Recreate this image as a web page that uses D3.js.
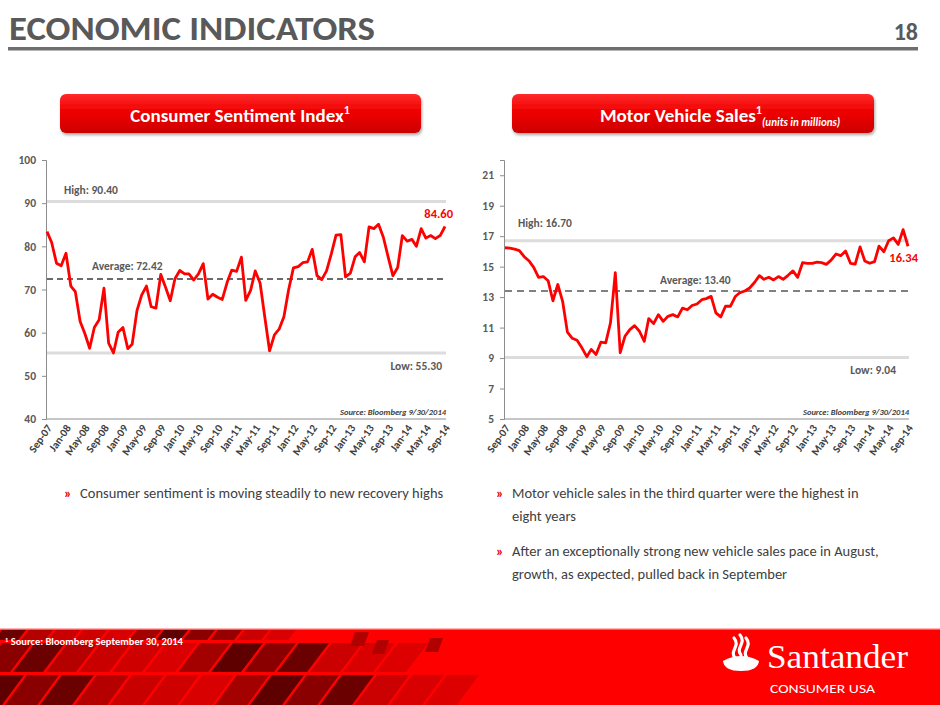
<!DOCTYPE html>
<html>
<head>
<meta charset="utf-8">
<script src="https://cdn.jsdelivr.net/npm/d3@7"></script>
<style>
  body { margin: 0; background: #fff; }
  svg text { font-family: Carlito, Lato, "Open Sans", sans-serif; }
</style>
</head>
<body>
<svg id="slide" width="940" height="705"></svg>
<script>
////////////////////////////////////////////////////////////////
// Data (monthly, Sep-07 .. Sep-14)

let firstMonth = "Sep-07";

let tickLabels = ["Sep-07","Jan-08","May-08","Sep-08","Jan-09","May-09","Sep-09",
  "Jan-10","May-10","Sep-10","Jan-11","May-11","Sep-11","Jan-12","May-12","Sep-12",
  "Jan-13","May-13","Sep-13","Jan-14","May-14","Sep-14"];

let sentimentValues = [83.4,80.9,76.1,75.5,
  78.4,70.8,69.5,62.6,59.8,56.4,61.2,63.0,70.3,57.6,55.3,60.1,
  61.2,56.3,57.3,65.1,68.7,70.8,66.0,65.7,73.5,70.6,67.4,72.5,
  74.4,73.6,73.6,72.2,73.6,76.0,67.8,68.9,68.2,67.7,71.6,74.5,
  74.2,77.5,67.5,69.8,74.3,71.5,63.7,55.8,59.5,60.8,63.7,69.9,
  75.0,75.3,76.2,76.4,79.3,73.2,72.3,74.3,78.3,82.6,82.7,72.9,
  73.8,77.6,78.6,76.4,84.5,84.1,85.1,82.1,77.5,73.2,75.1,82.5,
  81.2,81.6,80.0,84.1,81.9,82.5,81.8,82.5,84.6];

let vehicleValues = [16.24,16.22,16.15,16.05,
  15.65,15.37,14.95,14.30,14.35,14.07,12.76,13.83,12.70,10.70,10.30,10.17,
  9.67,9.09,9.57,9.24,10.04,10.00,11.30,14.60,9.35,10.43,10.87,11.13,
  10.76,10.10,11.59,11.26,11.85,11.41,11.74,11.85,11.70,12.28,12.17,12.45,
  12.55,12.83,12.90,13.05,11.97,11.70,12.40,12.40,13.04,13.30,13.40,13.60,
  13.96,14.41,14.17,14.30,14.13,14.35,14.17,14.43,14.72,14.30,15.26,15.22,
  15.22,15.30,15.26,15.15,15.43,15.83,15.72,16.02,15.22,15.17,16.30,15.37,
  15.22,15.33,16.35,15.98,16.70,16.89,16.46,17.43,16.34];

let sentimentTicks = [40,50,60,70,80,90,100];
let vehicleTicks = [5,7,9,11,13,15,17,19,21];

let sentimentStats = { high: 90.40, avg: 72.42, low: 55.30, last: 84.60 };
let vehicleStats = { high: 16.70, avg: 13.40, low: 9.04, last: 16.34 };

let leftBullets = [["Consumer sentiment is moving steadily to new recovery highs"]];
let rightBullets = [
  ["Motor vehicle sales in the third quarter were the highest in", "eight years"],
  ["After an exceptionally strong new vehicle sales pace in August,", "growth, as expected, pulled back in September"]
];

////////////////////////////////////////////////////////////////

let svg = d3.select("#slide");
let grey = "#595959";
let red = "#ff0000";
let parseMonth = d3.timeParse("%b-%y");

let defs = svg.append("defs");
let btnGrad = defs.append("linearGradient").attr("id", "btn").attr("x1", 0).attr("x2", 0).attr("y1", 0).attr("y2", 1);
btnGrad.append("stop").attr("offset", "0%").attr("stop-color", "#ff2a2a");
btnGrad.append("stop").attr("offset", "45%").attr("stop-color", "#f00000");
btnGrad.append("stop").attr("offset", "100%").attr("stop-color", "#cc0000");
let shadow = defs.append("filter").attr("id", "shadow").attr("x", "-10%").attr("y", "-20%").attr("width", "120%").attr("height", "160%");
shadow.append("feDropShadow").attr("dx", 1).attr("dy", 2).attr("stdDeviation", 1.5).attr("flood-color", "#000").attr("flood-opacity", 0.35);

// header
svg.append("text")
  .attr("x", 9).attr("y", 40)
  .attr("font-size", 34).attr("font-weight", "bold").attr("fill", grey)
  .attr("textLength", 366).attr("lengthAdjust", "spacingAndGlyphs")
  .text("ECONOMIC INDICATORS");
svg.append("text")
  .attr("x", 918).attr("y", 40).attr("text-anchor", "end")
  .attr("font-size", 24).attr("font-weight", "bold").attr("fill", grey)
  .text("18");
svg.append("rect").attr("x", 8).attr("y", 47).attr("width", 910).attr("height", 3.5).attr("fill", "#6e6e6e");

// section buttons
function button(x, w, tx, anchor, label, note) {
  let g = svg.append("g");
  g.append("rect")
    .attr("x", x).attr("y", 94).attr("width", w).attr("height", 39).attr("rx", 6)
    .attr("fill", "url(#btn)").attr("filter", "url(#shadow)");
  let t = g.append("text")
    .attr("x", tx).attr("y", 122)
    .attr("text-anchor", anchor).attr("fill", "#fff")
    .attr("font-size", 19).attr("font-weight", "bold");
  t.append("tspan").text(label);
  t.append("tspan").attr("font-size", 12).attr("dy", -8).text("1");
  if (note) {
    t.append("tspan").attr("font-size", 11).attr("font-style", "italic").attr("dy", 12).text(note);
  }
}
button(60, 361, 240, "middle", "Consumer Sentiment Index");
button(512, 362, 600, "start", "Motor Vehicle Sales", "(units in millions)");

////////////////////////////////////////////////////////////////
// line charts

function drawChart(cfg) {
  let start = parseMonth(firstMonth);
  let dates = cfg.values.map((v, i) => d3.timeMonth.offset(start, i));
  let data = dates.map((d, i) => [d, cfg.values[i]]);

  let x = d3.scaleTime()
    .domain([dates[0], dates[dates.length - 1]])
    .range([cfg.x0, cfg.x1]);
  let y = d3.scaleLinear()
    .domain(cfg.domain)
    .range([419, 160]);

  let g = svg.append("g");

  // y axis
  let ya = g.append("g")
    .attr("transform", `translate(${cfg.x0 - 1},0)`)
    .call(d3.axisLeft(y).tickValues(cfg.ticks).tickSize(4).tickPadding(6).tickFormat(d3.format("d")));
  ya.select(".domain").attr("stroke", "#8c8c8c");
  ya.selectAll(".tick line").attr("stroke", "#8c8c8c");
  ya.selectAll(".tick text")
    .attr("fill", grey).attr("font-size", 11.5).attr("font-weight", "bold")
    .style("font-family", "Carlito, Lato, 'Open Sans', sans-serif");

  // x axis
  let xa = g.append("g")
    .attr("transform", "translate(0,419)")
    .call(d3.axisBottom(x).tickValues(tickLabels.map(parseMonth)).tickSize(0).tickPadding(0)
      .tickFormat(d3.timeFormat("%b-%y")));
  xa.select(".domain").attr("stroke", "#8c8c8c").attr("d", `M${cfg.x0 - 1},0H${cfg.x1 + 1}`);
  xa.selectAll(".tick text")
    .attr("fill", "#404040").attr("font-size", 11).attr("font-weight", "bold")
    .style("font-family", "Carlito, Lato, 'Open Sans', sans-serif")
    .attr("text-anchor", "end")
    .attr("dy", 0)
    .attr("transform", "translate(5,9) rotate(-55)");

  // reference lines
  [cfg.stats.high, cfg.stats.low].forEach(v => {
    g.append("line")
      .attr("x1", cfg.x0).attr("x2", cfg.x1 + 1)
      .attr("y1", y(v)).attr("y2", y(v))
      .attr("stroke", "#dcdcdc").attr("stroke-width", 3);
  });
  g.append("line")
    .attr("x1", cfg.x0).attr("x2", cfg.x1 + 2)
    .attr("y1", y(cfg.stats.avg)).attr("y2", y(cfg.stats.avg))
    .attr("stroke", cfg.dashColor).attr("stroke-width", cfg.dashWidth)
    .attr("stroke-dasharray", cfg.dash);

  // series
  g.append("path")
    .datum(data)
    .attr("d", d3.line().x(p => x(p[0])).y(p => y(p[1])))
    .attr("fill", "none")
    .attr("stroke", red)
    .attr("stroke-width", 2.8)
    .attr("stroke-linejoin", "round");

  // labels
  let lab = (tx, ty, anchor, txt, size, color) => g.append("text")
    .attr("x", tx).attr("y", ty).attr("text-anchor", anchor)
    .attr("font-size", size).attr("font-weight", "bold").attr("fill", color)
    .text(txt);
  let f = d3.format(".2f");
  lab(cfg.x0 + cfg.highDx, y(cfg.stats.high) + cfg.highDy, "start", "High: " + f(cfg.stats.high), 11.5, grey);
  lab(cfg.avgX, y(cfg.stats.avg) + cfg.avgDy, "start", "Average: " + f(cfg.stats.avg), 11.5, grey);
  lab(cfg.lowX, y(cfg.stats.low) + cfg.lowDy, "end", "Low: " + f(cfg.stats.low), 11.5, grey);
  lab(cfg.lastX, y(cfg.stats.last) + cfg.lastDy, "end", f(cfg.stats.last), 12.5, red);

  g.append("text")
    .attr("x", cfg.x1 + 1).attr("y", 415).attr("text-anchor", "end")
    .attr("font-size", 8.5).attr("font-weight", "bold").attr("font-style", "italic")
    .attr("fill", "#404040")
    .text("Source: Bloomberg 9/30/2014");
}

drawChart({
  values: sentimentValues, ticks: sentimentTicks, domain: [40, 100], stats: sentimentStats,
  x0: 47, x1: 445,
  dashColor: "#3a3a3a", dashWidth: 1.6, dash: "6,4",
  highDx: 17, highDy: -7, avgX: 92, avgDy: -9.5, lowX: 442, lowDy: 17.5, lastX: 453, lastDy: -8.5
});

drawChart({
  values: vehicleValues, ticks: vehicleTicks, domain: [5, 22], stats: vehicleStats,
  x0: 505, x1: 908,
  dashColor: "#808080", dashWidth: 2, dash: "7,5",
  highDx: 13, highDy: -14, avgX: 660, avgDy: -7, lowX: 896, lowDy: 16.5, lastX: 918, lastDy: 16
});

////////////////////////////////////////////////////////////////
// bullets

function bullets(x, list) {
  let yy = 498;
  list.forEach(lines => {
    svg.append("text").attr("x", x).attr("y", yy)
      .attr("font-size", 14).attr("font-weight", "bold").attr("fill", "#e60000").text("»");
    lines.forEach(line => {
      svg.append("text").attr("x", x + 16).attr("y", yy)
        .attr("font-size", 14.5).attr("fill", "#404040").text(line);
      yy += 23;
    });
    yy += 12;
  });
}
bullets(64, leftBullets);
bullets(496, rightBullets);

////////////////////////////////////////////////////////////////
// footer band

let foot = svg.append("g");
foot.append("rect").attr("x", 0).attr("y", 628).attr("width", 940).attr("height", 77).attr("fill", "#ff0000");
foot.append("rect").attr("x", 0).attr("y", 628).attr("width", 940).attr("height", 1.5).attr("fill", "#ffb3b3");

// decorative tiles (three slanted rows)
let shades = ["#6b0000", "#a30000", "#c80000", "#8a0000", "#d80000", "#b50000", "#5e0000", "#cf0000"];
let tileRows = [
  { y: 630, h: 10, w: 24, n: 11, slant: 8, x0: -6, gap: 3 },
  { y: 643, h: 29, w: 30, n: 13, slant: 22, x0: -20, gap: 3 },
  { y: 675, h: 30, w: 32, n: 14, slant: 22, x0: -30, gap: 3 }
];
let tiles = foot.append("g");
tileRows.forEach((row, r) => {
  d3.range(row.n).forEach(c => {
    let cx = row.x0 + c * (row.w + row.gap);
    let k = (c * 5 + r * 3) % shades.length;
    tiles.append("path")
      .attr("d", `M${cx + row.slant},${row.y}H${cx + row.slant + row.w}L${cx + row.w},${row.y + row.h}H${cx}Z`)
      .attr("fill", shades[k])
      .attr("opacity", c > row.n - 4 ? 0.7 : 1);
  });
});
// sparse tiles to the right of the top row
[[350, 632, 14], [372, 640, 12], [425, 638, 13]].forEach(s => {
  tiles.append("path")
    .attr("d", `M${s[0] + 5},${s[1]}H${s[0] + 5 + s[2]}L${s[0] + s[2]},${s[1] + 14}H${s[0]}Z`)
    .attr("fill", "#b00000");
});

foot.append("text").attr("x", 5).attr("y", 645)
  .attr("font-size", 10.5).attr("font-weight", "bold").attr("fill", "#fff")
  .html("<tspan font-size='6.5' dy='-3'>1</tspan><tspan dy='3'> Source: Bloomberg September 30, 2014</tspan>");

// Santander flame mark
foot.append("path")
  .attr("d", "M723,661 Q741,651 759,661 Q758,671 741,671 Q724,671 723,661 Z")
  .attr("fill", "#fff");
[[-6, 0], [0, -3], [6, 0]].forEach(o => {
  foot.append("path")
    .attr("d", `M${741 + o[0]},${658 + o[1]} C${735 + o[0]},${651 + o[1]} ${747 + o[0]},${646 + o[1]} ${740 + o[0]},${638 + o[1]}`)
    .attr("fill", "none").attr("stroke", "#fff").attr("stroke-width", 3.2).attr("stroke-linecap", "round");
});
foot.append("text").attr("x", 767).attr("y", 668)
  .attr("font-size", 33).attr("fill", "#fff")
  .style("font-family", "'Liberation Serif', 'DejaVu Serif', serif")
  .attr("textLength", 141).attr("lengthAdjust", "spacingAndGlyphs")
  .text("Santander");
foot.append("text").attr("x", 770).attr("y", 693)
  .attr("font-size", 12).attr("fill", "#fff")
  .attr("textLength", 105).attr("lengthAdjust", "spacingAndGlyphs")
  .text("CONSUMER USA");
</script>
</body>
</html>
